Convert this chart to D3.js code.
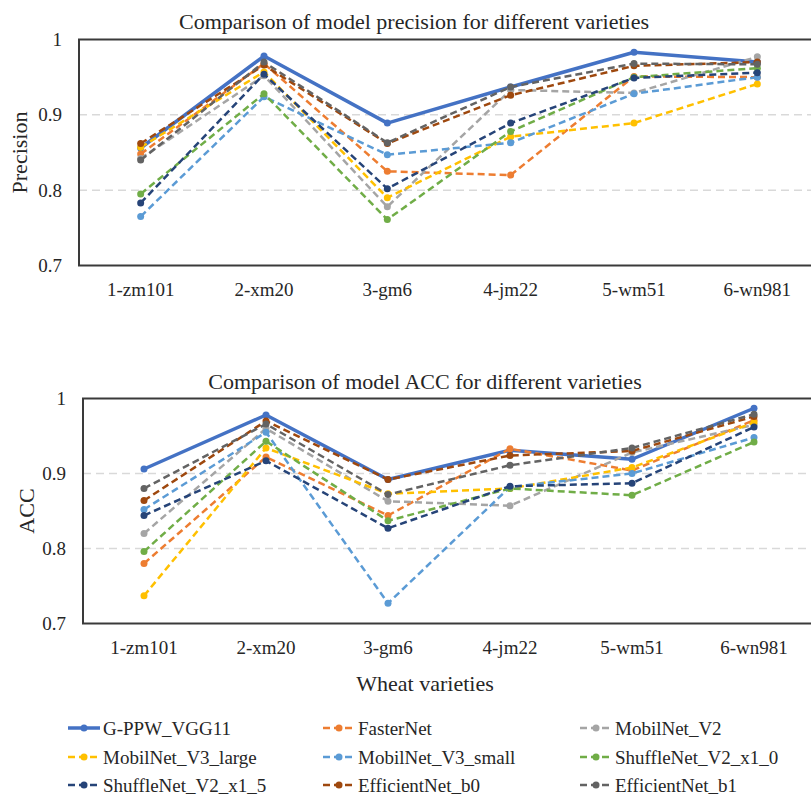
<!DOCTYPE html>
<html>
<head>
<meta charset="utf-8">
<script src="https://d3js.org/d3.v7.min.js"></script>
<style>
  body { margin: 0; background: #fff; }
</style>
</head>
<body>
<div id="chart"></div>
<script>
var varieties = ["1-zm101", "2-xm20", "3-gm6", "4-jm22", "5-wm51", "6-wn981"];
var models = ["G-PPW_VGG11", "FasterNet", "MobilNet_V2", "MobilNet_V3_large", "MobilNet_V3_small",
              "ShuffleNet_V2_x1_0", "ShuffleNet_V2_x1_5", "EfficientNet_b0", "EfficientNet_b1"];
var colors = ["#4472C4", "#ED7D31", "#A5A5A5", "#FFC000", "#5B9BD5", "#70AD47", "#264478", "#9E480E", "#636363"];
var yTicks = [0.7, 0.8, 0.9, 1];

// precision per model, one value per variety
var precVGG11      = [0.856, 0.978, 0.889, 0.937, 0.983, 0.970];
var precFaster     = [0.848, 0.968, 0.825, 0.820, 0.951, 0.950];
var precMobV2      = [0.842, 0.952, 0.778, 0.933, 0.929, 0.977];
var precMobV3L     = [0.857, 0.957, 0.790, 0.871, 0.889, 0.941];
var precMobV3S     = [0.765, 0.924, 0.847, 0.863, 0.928, 0.950];
var precShuf10     = [0.795, 0.928, 0.761, 0.878, 0.950, 0.962];
var precShuf15     = [0.783, 0.954, 0.802, 0.889, 0.949, 0.956];
var precEffB0      = [0.862, 0.966, 0.862, 0.926, 0.965, 0.970];
var precEffB1      = [0.840, 0.970, 0.863, 0.937, 0.968, 0.967];

// accuracy per model
var accVGG11       = [0.906, 0.978, 0.892, 0.931, 0.919, 0.987];
var accFaster      = [0.780, 0.922, 0.844, 0.933, 0.904, 0.971];
var accMobV2       = [0.820, 0.960, 0.863, 0.857, 0.928, 0.965];
var accMobV3L      = [0.737, 0.934, 0.873, 0.880, 0.908, 0.968];
var accMobV3S      = [0.852, 0.955, 0.727, 0.882, 0.900, 0.948];
var accShuf10      = [0.796, 0.943, 0.837, 0.880, 0.871, 0.942];
var accShuf15      = [0.844, 0.917, 0.827, 0.883, 0.887, 0.962];
var accEffB0       = [0.864, 0.970, 0.892, 0.924, 0.930, 0.976];
var accEffB1       = [0.880, 0.966, 0.872, 0.911, 0.934, 0.979];

var precision = [precVGG11, precFaster, precMobV2, precMobV3L, precMobV3S, precShuf10, precShuf15, precEffB0, precEffB1];
var accuracy  = [accVGG11, accFaster, accMobV2, accMobV3L, accMobV3S, accShuf10, accShuf15, accEffB0, accEffB1];

var width = 811, height = 796;
var serif = "'Liberation Serif', 'DejaVu Serif', 'Times New Roman', serif";

var svg = d3.select("#chart").append("svg")
    .attr("width", width)
    .attr("height", height)
    .attr("font-family", serif);

function drawPanel(cfg) {
    var x = d3.scalePoint()
        .domain(varieties)
        .range([cfg.left, cfg.right])
        .padding(0.5);
    var y = d3.scaleLinear()
        .domain([0.7, 1])
        .range([cfg.bottom, cfg.top]);

    var g = svg.append("g");

    // dashed gridlines
    g.selectAll(".grid")
        .data(yTicks.filter(function(t) { return t > 0.7 && t < 1; }))
        .enter().append("line")
        .attr("x1", cfg.left).attr("x2", cfg.right)
        .attr("y1", function(d) { return y(d); })
        .attr("y2", function(d) { return y(d); })
        .attr("stroke", "#d9d9d9")
        .attr("stroke-width", 1.5)
        .attr("stroke-dasharray", "8,5");

    // y tick labels
    g.selectAll(".ytick")
        .data(yTicks)
        .enter().append("text")
        .attr("x", cfg.left - 17)
        .attr("y", function(d) { return y(d); })
        .attr("dy", "0.35em")
        .attr("text-anchor", "end")
        .attr("font-size", 19)
        .attr("fill", "#262626")
        .text(function(d) { return d == 1 ? "1" : d3.format(".1f")(d); });

    // category labels
    g.selectAll(".xtick")
        .data(varieties)
        .enter().append("text")
        .attr("x", function(d) { return x(d); })
        .attr("y", cfg.bottom + 30)
        .attr("text-anchor", "middle")
        .attr("font-size", 19)
        .attr("fill", "#262626")
        .text(function(d) { return d; });

    // title
    g.append("text")
        .attr("x", cfg.titleX)
        .attr("y", cfg.titleY)
        .attr("text-anchor", "middle")
        .attr("font-size", 22)
        .attr("fill", "#262626")
        .text(cfg.title);

    // y axis title
    g.append("text")
        .attr("transform", "translate(" + cfg.yLabelX + "," + ((cfg.top + cfg.bottom) / 2) + ") rotate(-90)")
        .attr("text-anchor", "middle")
        .attr("font-size", 22)
        .attr("fill", "#262626")
        .text(cfg.yLabel);

    var line = d3.line()
        .x(function(d, i) { return x(varieties[i]); })
        .y(function(d) { return y(d); });

    cfg.data.forEach(function(vals, k) {
        var s = g.append("g");
        s.append("path")
            .datum(vals)
            .attr("d", line)
            .attr("fill", "none")
            .attr("stroke", colors[k])
            .attr("stroke-width", k == 0 ? 3.5 : 2.5)
            .attr("stroke-dasharray", k == 0 ? null : "7,4")
            .attr("stroke-linejoin", "round");
        s.selectAll("circle")
            .data(vals)
            .enter().append("circle")
            .attr("cx", function(d, i) { return x(varieties[i]); })
            .attr("cy", function(d) { return y(d); })
            .attr("r", 3.5)
            .attr("fill", colors[k]);
    });

    // plot frame
    g.append("rect")
        .attr("x", cfg.left)
        .attr("y", cfg.top)
        .attr("width", cfg.right - cfg.left)
        .attr("height", cfg.bottom - cfg.top)
        .attr("fill", "none")
        .attr("stroke", "#3a3a3a")
        .attr("stroke-width", 2);
}

drawPanel({ left: 79, right: 819, top: 39.5, bottom: 265.5,
            title: "Comparison of model precision for different varieties", titleX: 414, titleY: 29,
            yLabel: "Precision", yLabelX: 27, data: precision });

drawPanel({ left: 83, right: 815, top: 398.5, bottom: 623.5,
            title: "Comparison of model ACC for different varieties", titleX: 425, titleY: 389,
            yLabel: "ACC", yLabelX: 34, data: accuracy });

svg.append("text")
    .attr("x", 425)
    .attr("y", 691)
    .attr("text-anchor", "middle")
    .attr("font-size", 22)
    .attr("fill", "#262626")
    .text("Wheat varieties");

// legend, 3 columns
var legColX = [68, 323, 580];
var legRowY = [728, 757, 785];
var legend = svg.selectAll(".legend")
    .data(models)
    .enter().append("g")
    .attr("transform", function(d, i) {
        return "translate(" + legColX[i % 3] + "," + legRowY[Math.floor(i / 3)] + ")";
    });

legend.append("line")
    .attr("x1", 0).attr("x2", 32)
    .attr("y1", 0).attr("y2", 0)
    .attr("stroke", function(d, i) { return colors[i]; })
    .attr("stroke-width", function(d, i) { return i == 0 ? 3.5 : 2.5; })
    .attr("stroke-dasharray", function(d, i) { return i == 0 ? null : "7,4"; });

legend.append("circle")
    .attr("cx", 16).attr("cy", 0).attr("r", 3.5)
    .attr("fill", function(d, i) { return colors[i]; });

legend.append("text")
    .attr("x", 35)
    .attr("y", 0)
    .attr("dy", "0.35em")
    .attr("font-size", 19)
    .attr("fill", "#262626")
    .text(function(d) { return d; });
</script>
</body>
</html>
